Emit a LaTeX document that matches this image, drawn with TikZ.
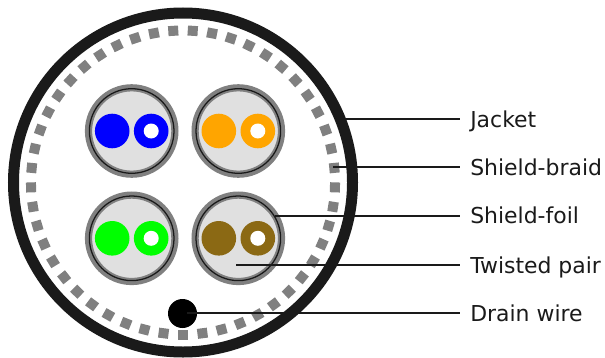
\documentclass[tikz,border=0pt]{standalone}
\usepackage{fontspec}
\setmainfont{DejaVu Sans}
\definecolor{jacketblack}{HTML}{1A1A1A}
\definecolor{braidgray}{HTML}{808080}
\definecolor{foilgray}{HTML}{E0E0E0}
\definecolor{wirebrown}{HTML}{8B6914}
\definecolor{wireorange}{HTML}{FFA500}
\definecolor{wiregreen}{HTML}{00FF00}
\definecolor{wireblue}{HTML}{0000FF}
\tikzset{
	leader/.style={draw=jacketblack,line width=1.4pt},
	partlabel/.style={anchor=west,inner xsep=7.5pt,inner ysep=0pt,text height=14pt,text depth=2pt,text=jacketblack,font=\fontsize{16.45}{20}\selectfont},
}
\begin{document}
\begin{tikzpicture}[x=0.75pt,y=-0.75pt]
	\useasboundingbox (0,0) rectangle (605,357);
	\draw[jacketblack,line width=8.25pt] (183,182.5) circle (169.5);
	\foreach \i in {0,...,48}
		\fill[braidgray,rotate around={270+\i*7.34694:(183,182.5)}] (183+152-5,182.5-5) rectangle (183+152+5,182.5+5);
	\foreach \px/\py/\col in {131.7/131/wireblue,238.3/131/wireorange,131.7/238.3/wiregreen,238.3/238.3/wirebrown} {
		\fill[foilgray] (\px,\py) circle (41);
		\draw[braidgray,line width=5.4pt] (\px,\py) circle (43.2);
		\draw[jacketblack,line width=0.95pt] (\px,\py) circle (42.3);
		\fill[\col] (\px-19.5,\py) circle (17.3);
		\fill[\col] (\px+19.5,\py) circle (17.3);
		\fill[white] (\px+19.5,\py) circle (7.5);
	}
	\fill[black] (182.5,313.5) circle (14.5);
	\node[partlabel] (jacket) at (460,119) {Jacket};
	\node[partlabel] (braid) at (460,167.3) {Shield-braid};
	\node[partlabel] (foil) at (460,215.7) {Shield-foil};
	\node[partlabel] (pair) at (460,265) {Twisted pair};
	\node[partlabel] (drain) at (460,313.3) {Drain wire};
	\coordinate (jacketend) at (346,119);
	\coordinate (braidend) at (333,167.3);
	\coordinate (foilend) at (275,215.7);
	\coordinate (pairend) at (236,265);
	\coordinate (drainend) at (187,313.3);
	\draw[leader] (jacketend) -- (jacket);
	\draw[leader] (braidend) -- (braid);
	\draw[leader] (foilend) -- (foil);
	\draw[leader] (pairend) -- (pair);
	\draw[leader] (drainend) -- (drain);
\end{tikzpicture}
\end{document}
